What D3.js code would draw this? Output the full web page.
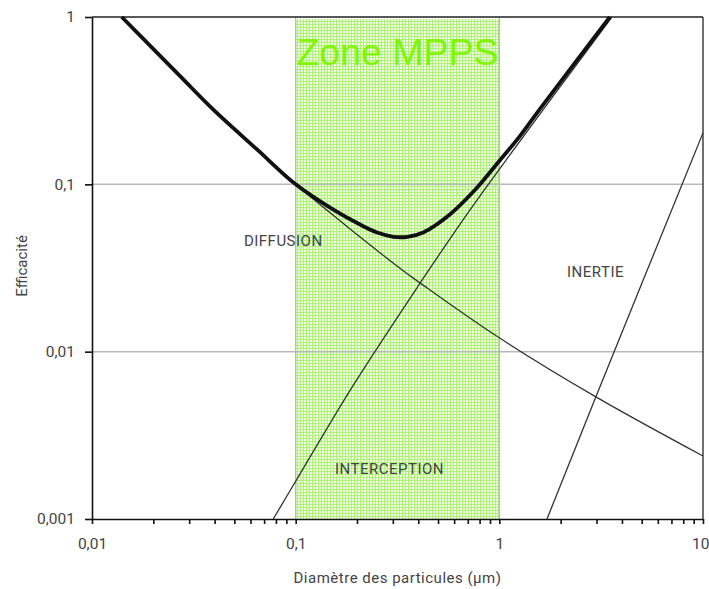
<!DOCTYPE html>
<html>
<head>
<meta charset="utf-8">
<script src="https://cdn.jsdelivr.net/npm/d3@7"></script>
<style>
  body { margin: 0; background: #fff; }
  svg { display: block; }
</style>
</head>
<body>
<div id="chart"></div>
<script>
// values (x = diameter in µm, y = efficiency)
const diffusion = [[0.0140, 1], [0.0270, 0.4446], [0.0393, 0.2805], [0.0644, 0.1622], [0.1, 0.1],
    [0.325, 0.0315], [0.411, 0.0256], [1, 0.0121], [2.98, 0.00537], [10, 0.00238]];
const interception = [[0.0776, 0.001], [0.103, 0.001786], [0.192, 0.00631], [0.411, 0.0260],
    [0.661, 0.0610], [1.042, 0.1318], [3.57, 1]];
const inertie = [[1.714, 0.001], [2.98, 0.00537], [10, 0.203]];
const total = [[0.0140, 1], [0.0270, 0.4446], [0.0393, 0.2805], [0.0644, 0.1622], [0.1, 0.1],
    [0.1524, 0.0708], [0.207, 0.0575], [0.2512, 0.0515], [0.3013, 0.0486], [0.3548, 0.0486],
    [0.4227, 0.0516], [0.5715, 0.0661], [0.7745, 0.0951], [1, 0.138], [1.262, 0.1941],
    [1.581, 0.2818], [3.49, 1]];

const xMajor = [0.01, 0.1, 1, 10];
const xMajorLabels = ["0,01", "0,1", "1", "10"];
const yMajor = [0.001, 0.01, 0.1, 1];
const yMajorLabels = ["0,001", "0,01", "0,1", "1"];
const gridValues = [0.01, 0.1];
const zone = [0.1, 1];

const curveLabels = [
    {text: "DIFFUSION", x: 0.0557, y: 0.0458},
    {text: "INTERCEPTION", x: 0.156, y: 0.00201},
    {text: "INERTIE", x: 2.15, y: 0.0299}
];

let width = 709, height = 589;
let margin = {top: 17, right: 6, bottom: 70, left: 92};

let svg = d3.select("#chart").append("svg")
    .attr("width", width)
    .attr("height", height);

let x = d3.scaleLog()
    .domain([0.01, 10])
    .range([margin.left, width - margin.right]);

let y = d3.scaleLog()
    .domain([0.001, 1])
    .range([height - margin.bottom, margin.top]);

// green hatched pattern for the MPPS zone
let defs = svg.append("defs");
let pat = defs.append("pattern")
    .attr("id", "mpps")
    .attr("patternUnits", "userSpaceOnUse")
    .attr("width", 3).attr("height", 3);
pat.append("rect").attr("width", 3).attr("height", 3).attr("fill", "#effde4");
pat.append("rect").attr("width", 3).attr("height", 1).attr("fill", "#b0f276");
pat.append("rect").attr("width", 1).attr("height", 3).attr("fill", "#b0f276");

svg.append("rect")
    .attr("x", x(zone[0]))
    .attr("y", y(1) + 2)
    .attr("width", x(zone[1]) - x(zone[0]))
    .attr("height", y(0.001) - y(1) - 2)
    .attr("fill", "url(#mpps)");

svg.selectAll(".vline")
    .data(zone)
    .enter().append("line")
    .attr("x1", d => x(d)).attr("x2", d => x(d))
    .attr("y1", y(1)).attr("y2", y(0.001))
    .attr("stroke", "#b5b5b5")
    .attr("stroke-width", 1.2);

// horizontal grid
svg.selectAll(".grid")
    .data(gridValues)
    .enter().append("line")
    .attr("x1", x(0.01)).attr("x2", x(10))
    .attr("y1", d => y(d)).attr("y2", d => y(d))
    .attr("stroke", "#b8b8b8")
    .attr("stroke-width", 1.5);

svg.append("text")
    .attr("x", (x(zone[0]) + x(zone[1])) / 2)
    .attr("y", 65)
    .attr("text-anchor", "middle")
    .style("font-family", "'Liberation Sans', Arial, sans-serif")
    .style("font-size", "37.5px")
    .style("fill", "#7ff700")
    .text("Zone MPPS");

// axes
let xTicks = [];
[0.01, 0.1, 1].forEach(function (dec) {
    for (let k = 1; k < 10; k++) xTicks.push(dec * k);
});
xTicks.push(10);

let xAxis = svg.append("g")
    .attr("class", "xaxis")
    .attr("transform", "translate(0," + y(0.001) + ")")
    .call(d3.axisBottom(x)
        .tickValues(xTicks)
        .tickSize(5)
        .tickSizeOuter(0)
        .tickPadding(14)
        .tickFormat(function (d) {
            let i = xMajor.findIndex(v => Math.abs(v - d) < d * 1e-6);
            return i >= 0 ? xMajorLabels[i] : "";
        }));

// keep the last label inside the window
xAxis.selectAll(".tick text")
    .filter(d => Math.abs(d - 10) < 1e-6)
    .attr("text-anchor", "end")
    .attr("dx", "6px");

let yAxis = svg.append("g")
    .attr("class", "yaxis")
    .attr("transform", "translate(" + x(0.01) + ",0)")
    .call(d3.axisLeft(y)
        .tickValues(yMajor)
        .tickSize(7)
        .tickSizeOuter(0)
        .tickPadding(10)
        .tickFormat((d, i) => yMajorLabels[i]));

svg.selectAll(".xaxis path, .yaxis path, .xaxis line, .yaxis line")
    .attr("stroke", "#111")
    .attr("stroke-width", 1.6);

svg.selectAll(".xaxis text, .yaxis text")
    .style("font-family", "Roboto, sans-serif")
    .style("font-size", "15.5px")
    .style("fill", "#444");

// frame top & right
svg.append("line")
    .attr("x1", x(0.01)).attr("x2", x(10))
    .attr("y1", y(1)).attr("y2", y(1))
    .attr("stroke", "#222").attr("stroke-width", 1.6);
svg.append("line")
    .attr("x1", x(10)).attr("x2", x(10))
    .attr("y1", y(1)).attr("y2", y(0.001))
    .attr("stroke", "#333").attr("stroke-width", 1.4);

// curves
let line = d3.line()
    .x(d => x(d[0]))
    .y(d => y(d[1]))
    .curve(d3.curveCatmullRom.alpha(0.5));

[diffusion, interception, inertie].forEach(function (s) {
    svg.append("path")
        .datum(s)
        .attr("d", line)
        .attr("fill", "none")
        .attr("stroke", "#333")
        .attr("stroke-width", 1.3);
});

svg.append("path")
    .datum(total)
    .attr("d", line)
    .attr("fill", "none")
    .attr("stroke", "#111")
    .attr("stroke-width", 3.8);

svg.selectAll(".clabel")
    .data(curveLabels)
    .enter().append("text")
    .attr("x", d => x(d.x))
    .attr("y", d => y(d.y))
    .attr("dy", "0.35em")
    .style("font-family", "Roboto, sans-serif")
    .style("font-size", "15px")
    .style("letter-spacing", "0.5px")
    .style("fill", "#444")
    .text(d => d.text);

// axis titles
svg.append("text")
    .attr("x", (x(0.01) + x(10)) / 2)
    .attr("y", 583)
    .attr("text-anchor", "middle")
    .style("font-family", "Roboto, sans-serif")
    .style("font-size", "15px")
    .style("letter-spacing", "0.5px")
    .style("fill", "#444")
    .text("Diamètre des particules (µm)");

svg.append("text")
    .attr("transform", "translate(27," + 266 + ") rotate(-90)")
    .attr("text-anchor", "middle")
    .style("font-family", "Roboto, sans-serif")
    .style("font-size", "15px")
    .style("fill", "#444")
    .text("Efficacité");
</script>
</body>
</html>
